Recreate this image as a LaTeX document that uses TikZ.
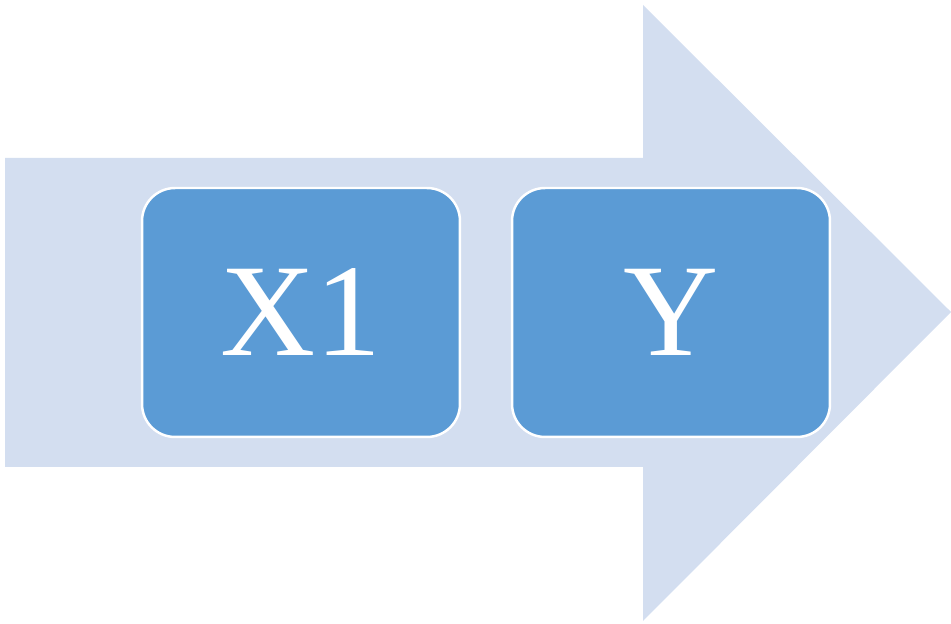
\documentclass[tikz,border=0pt]{standalone}
\usepackage{fontspec}
\setmainfont{Liberation Serif}
\usepackage{xcolor}
\definecolor{arrowfill}{HTML}{D3DEF0}
\definecolor{boxfill}{HTML}{5B9BD5}
\tikzset{
    big-arrow/.style = {fill=arrowfill, draw=none},
    var-box/.style = {draw=white, fill=boxfill, line width=1.4pt, rectangle, rounded corners=0.66cm,
        minimum width=6.36cm, minimum height=4.98cm, inner sep=0pt, text=white,
        font=\fontsize{75}{90}\selectfont},
}

\begin{document}
\begin{tikzpicture}[x=0.02cm, y=-0.02cm]
\useasboundingbox (0,0) rectangle (951,624);
% block arrow behind the boxes
\fill[big-arrow] (5,158) -- (643,158) -- (643,5) -- (951,312) -- (643,621) -- (643,467) -- (5,467) -- cycle;
\node[var-box] (x1) at (301,312.5) {X1};
\node[var-box] (y) at (671,312.5) {Y};
\end{tikzpicture}
\end{document}
